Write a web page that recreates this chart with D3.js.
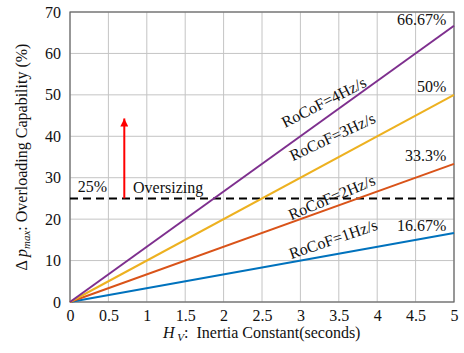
<!DOCTYPE html>
<html>
<head>
<meta charset="utf-8">
<script src="https://cdn.jsdelivr.net/npm/d3@7"></script>
<style>
  body { margin: 0; background: #fff; }
  svg text { font-family: "Liberation Serif", "Tinos", "DejaVu Serif", serif; fill: #111; }
</style>
</head>
<body>
<div id="chart-container" style="width:464px;height:353px"></div>
<script>
// data
var hRange = [0, 5];
var rocofLabels = ["RoCoF=1Hz/s", "RoCoF=2Hz/s", "RoCoF=3Hz/s", "RoCoF=4Hz/s"];
var endValues = [16.67, 33.33, 50, 66.67];
var endLabels = ["16.67%", "33.3%", "50%", "66.67%"];
var colors = ["#0072BD", "#D95319", "#EDB120", "#7E2F8E"];
var xTicks = [0, 0.5, 1, 1.5, 2, 2.5, 3, 3.5, 4, 4.5, 5];
var yTicks = [0, 10, 20, 30, 40, 50, 60, 70];
var threshold = 25;

var width = 464,
    height = 353,
    margin = {left: 70, right: 10, top: 12, bottom: 51};
var serif = "'Liberation Serif', 'Tinos', 'DejaVu Serif', serif";

var svg = d3.select("#chart-container").append("svg")
    .attr("width", width)
    .attr("height", height)
    .attr("font-family", serif);

var xScale = d3.scaleLinear().domain([0, 5]).range([margin.left, width - margin.right]);
var yScale = d3.scaleLinear().domain([0, 70]).range([height - margin.bottom, margin.top]);

// grid
svg.append("g").selectAll("line").data(xTicks).enter().append("line")
    .attr("x1", d => xScale(d)).attr("x2", d => xScale(d))
    .attr("y1", yScale(0)).attr("y2", yScale(70))
    .attr("stroke", "#c4c4c4").attr("stroke-width", 1);
svg.append("g").selectAll("line").data(yTicks).enter().append("line")
    .attr("x1", xScale(0)).attr("x2", xScale(5))
    .attr("y1", d => yScale(d)).attr("y2", d => yScale(d))
    .attr("stroke", "#c4c4c4").attr("stroke-width", 1);

// frame
svg.append("rect")
    .attr("x", xScale(0)).attr("y", yScale(70))
    .attr("width", xScale(5) - xScale(0))
    .attr("height", yScale(0) - yScale(70))
    .attr("fill", "none").attr("stroke", "#666").attr("stroke-width", 1.2);

// axes
var xAxis = d3.axisBottom(xScale).tickValues(xTicks).tickSize(0).tickPadding(8)
    .tickFormat(d3.format("~g"));
var gX = svg.append("g").attr("transform", "translate(0," + yScale(0) + ")").call(xAxis);
var yAxis = d3.axisLeft(yScale).tickValues(yTicks).tickSize(0).tickPadding(9);
var gY = svg.append("g").attr("transform", "translate(" + xScale(0) + ",0)").call(yAxis);
[gX, gY].forEach(g => {
    g.attr("font-family", serif).attr("font-size", 16);
    g.select(".domain").remove();
    g.selectAll("text").attr("fill", "#111");
});

// threshold line
svg.append("line")
    .attr("x1", xScale(0)).attr("x2", xScale(5))
    .attr("y1", yScale(threshold)).attr("y2", yScale(threshold))
    .attr("stroke", "#000").attr("stroke-width", 2)
    .attr("stroke-dasharray", "8,5");

// series lines
var line = d3.line().x(d => xScale(d[0])).y(d => yScale(d[1]));
svg.append("g").selectAll("path").data(endValues).enter().append("path")
    .attr("d", v => line([[hRange[0], 0], [hRange[1], v]]))
    .attr("fill", "none")
    .attr("stroke", (v, i) => colors[i])
    .attr("stroke-width", 2);

// rotated labels along lines
var labelAnchors = [[2.88, 10.3, -19], [2.88, 19.7, -23], [2.9, 34.0, -25], [2.8, 42.0, -27]];
svg.append("g").selectAll("text").data(rocofLabels).enter().append("text")
    .attr("transform", (d, i) => "translate(" + xScale(labelAnchors[i][0]) + "," + yScale(labelAnchors[i][1]) + ") rotate(" + labelAnchors[i][2] + ")")
    .attr("font-size", 16)
    .text(d => d);

// end value labels
var endLabelY = [17.1, 34.0, 50.7, 66.85];
svg.append("g").selectAll("text").data(endLabels).enter().append("text")
    .attr("x", xScale(4.9))
    .attr("y", (d, i) => yScale(endLabelY[i]))
    .attr("text-anchor", "end")
    .attr("font-size", 16)
    .text(d => d);

// oversizing annotation
svg.append("text").attr("x", xScale(0.1)).attr("y", yScale(26.5))
    .attr("font-size", 16).text("25%");
svg.append("text").attr("x", xScale(0.82)).attr("y", yScale(26.3))
    .attr("font-size", 16).text("Oversizing");

var defs = svg.append("defs");
defs.append("marker").attr("id", "arrow")
    .attr("viewBox", "0 0 10 10").attr("refX", 10).attr("refY", 5)
    .attr("markerWidth", 4.5).attr("markerHeight", 4).attr("orient", "auto")
    .attr("markerUnits", "strokeWidth")
    .append("path").attr("d", "M0,0 L10,5 L0,10 Z").attr("fill", "#ff0000");
svg.append("line")
    .attr("x1", xScale(0.707)).attr("x2", xScale(0.707))
    .attr("y1", yScale(25)).attr("y2", yScale(44.3))
    .attr("stroke", "#ff0000").attr("stroke-width", 2)
    .attr("marker-end", "url(#arrow)");

// axis titles
var yTitle = svg.append("text")
    .attr("transform", "translate(27," + yScale(35) + ") rotate(-90)")
    .attr("text-anchor", "middle")
    .attr("font-size", 16);
yTitle.append("tspan").text("\u0394 ");
yTitle.append("tspan").attr("font-style", "italic").text("p");
yTitle.append("tspan").attr("font-style", "italic").attr("font-size", 11).attr("dy", 3).text("max");
yTitle.append("tspan").attr("dy", -3).text(": Overloading Capability (%)");

var xTitle = svg.append("text")
    .attr("x", 163).attr("y", 338)
    .attr("font-size", 16);
xTitle.append("tspan").attr("font-style", "italic").text("H");
xTitle.append("tspan").attr("font-style", "italic").attr("font-size", 11).attr("dy", 3).text(" V");
xTitle.append("tspan").attr("dy", -3).text(":\u00a0 Inertia Constant(seconds)");
</script>
</body>
</html>
